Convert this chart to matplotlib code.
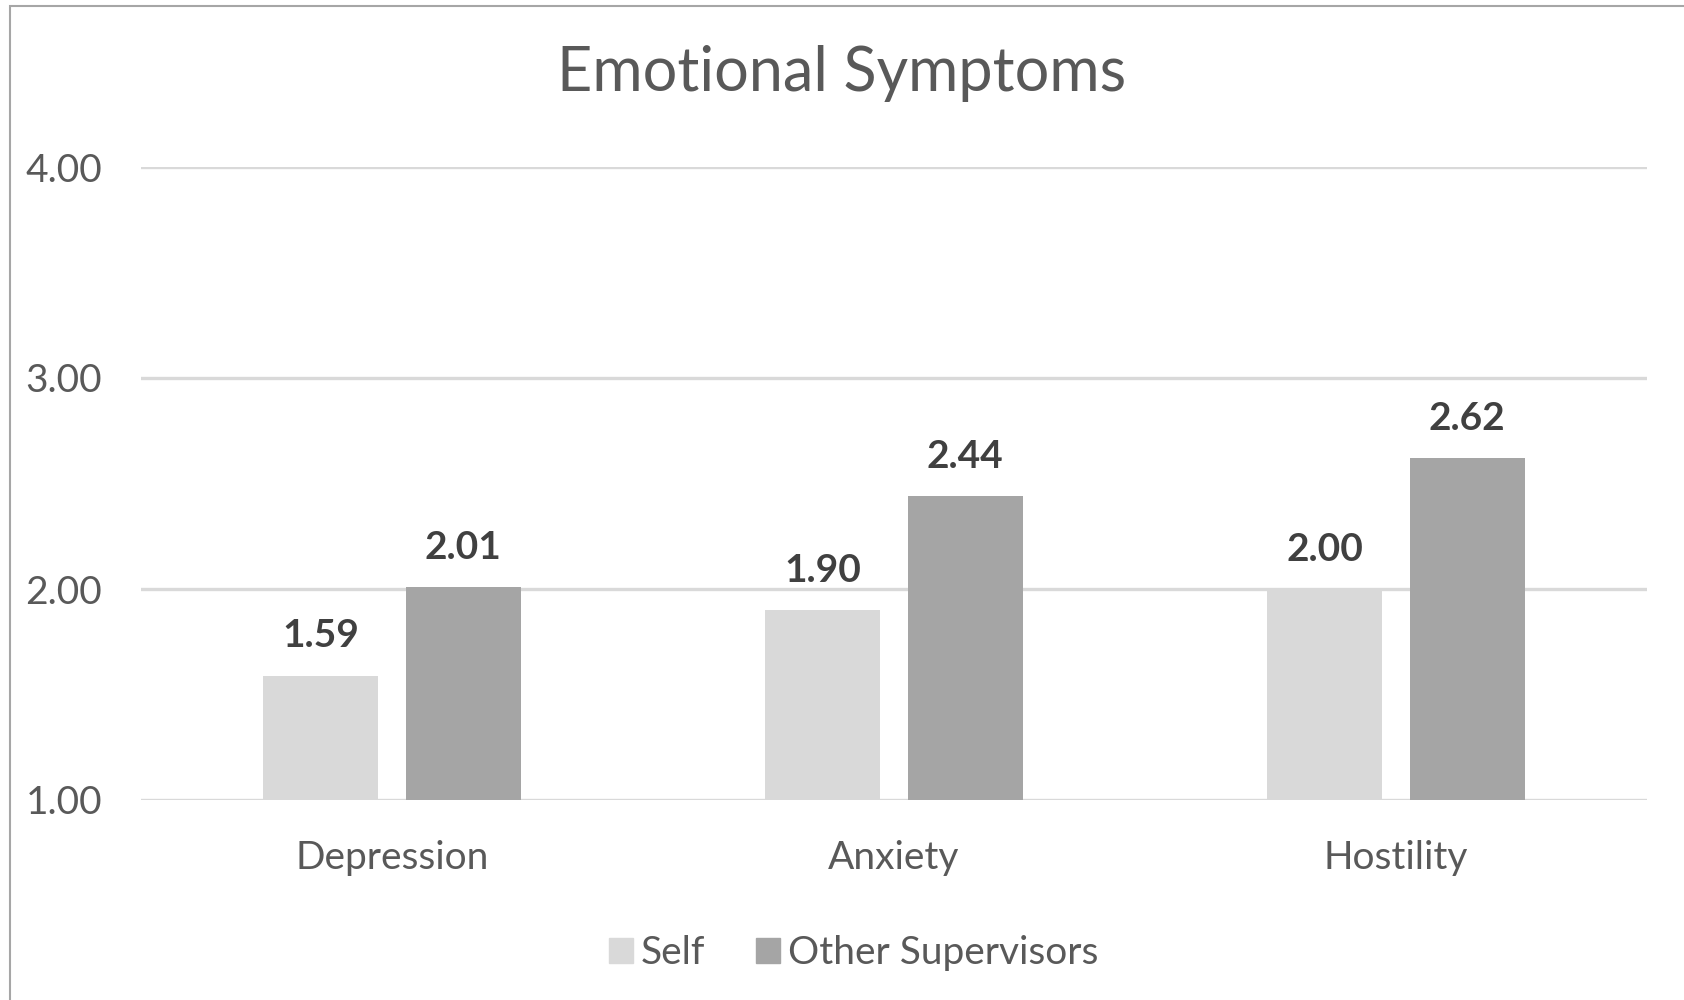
import matplotlib.pyplot as plt
import matplotlib.patches as mpatches
import numpy as np

categories = ["Depression", "Anxiety", "Hostility"]
self_vals = [1.59, 1.90, 2.00]
other_vals = [2.01, 2.44, 2.62]
series_names = ["Self", "Other Supervisors"]
yticks = [1.00, 2.00, 3.00, 4.00]

plt.rcParams['font.family'] = ['Lato', 'DejaVu Sans']

fig = plt.figure(figsize=(16.84, 10), dpi=100)
ax = fig.add_axes([0.0837, 0.2, 0.8943, 0.633])

x = np.arange(len(categories))
w = 0.23
off = 0.142
b1 = ax.bar(x - off, self_vals, w, color="#d9d9d9", zorder=2)
b2 = ax.bar(x + off, other_vals, w, color="#a5a5a5", zorder=2)

for bars, vals in ((b1, self_vals), (b2, other_vals)):
    for r, v in zip(bars, vals):
        ax.annotate(f"{v:.2f}", (r.get_x() + r.get_width() / 2, v),
                    xytext=(0, 16), textcoords="offset points",
                    ha="center", va="bottom", fontsize=28, fontweight="bold",
                    color="#404040")

ax.set_xlim(-0.5, 2.5)
ax.set_ylim(1, 4)
ax.set_yticks(yticks)
ax.set_yticklabels([f"{t:.2f}" for t in yticks])
ax.set_xticks(x)
ax.set_xticklabels(categories)
ax.tick_params(length=0, labelsize=28, labelcolor="#595959")
ax.tick_params(axis="y", pad=28)
ax.tick_params(axis="x", pad=29)
ax.yaxis.grid(True, color="#d9d9d9", linewidth=2.4, zorder=0)
ax.set_axisbelow(True)
for s in ax.spines.values():
    s.set_visible(False)

fig.text(0.5, 0.926, "Emotional Symptoms", ha="center", va="center",
         fontsize=44, color="#595959")

handles = [mpatches.Patch(color="#d9d9d9", label=series_names[0]),
           mpatches.Patch(color="#a5a5a5", label=series_names[1])]
fig.legend(handles=handles, loc="center", bbox_to_anchor=(0.507, 0.047),
           ncol=2, frameon=False, fontsize=28, labelcolor="#595959",
           handlelength=0.62, handleheight=0.62, handletextpad=0.2,
           columnspacing=1.3)

border = mpatches.Rectangle((10 / 1684, -0.05), 1.1, 0.994 + 0.05,
                            transform=fig.transFigure, fill=False,
                            edgecolor="#a6a6a6", linewidth=1.5, clip_on=False)
fig.patches.append(border)

fig.savefig("out.png", dpi=100)
